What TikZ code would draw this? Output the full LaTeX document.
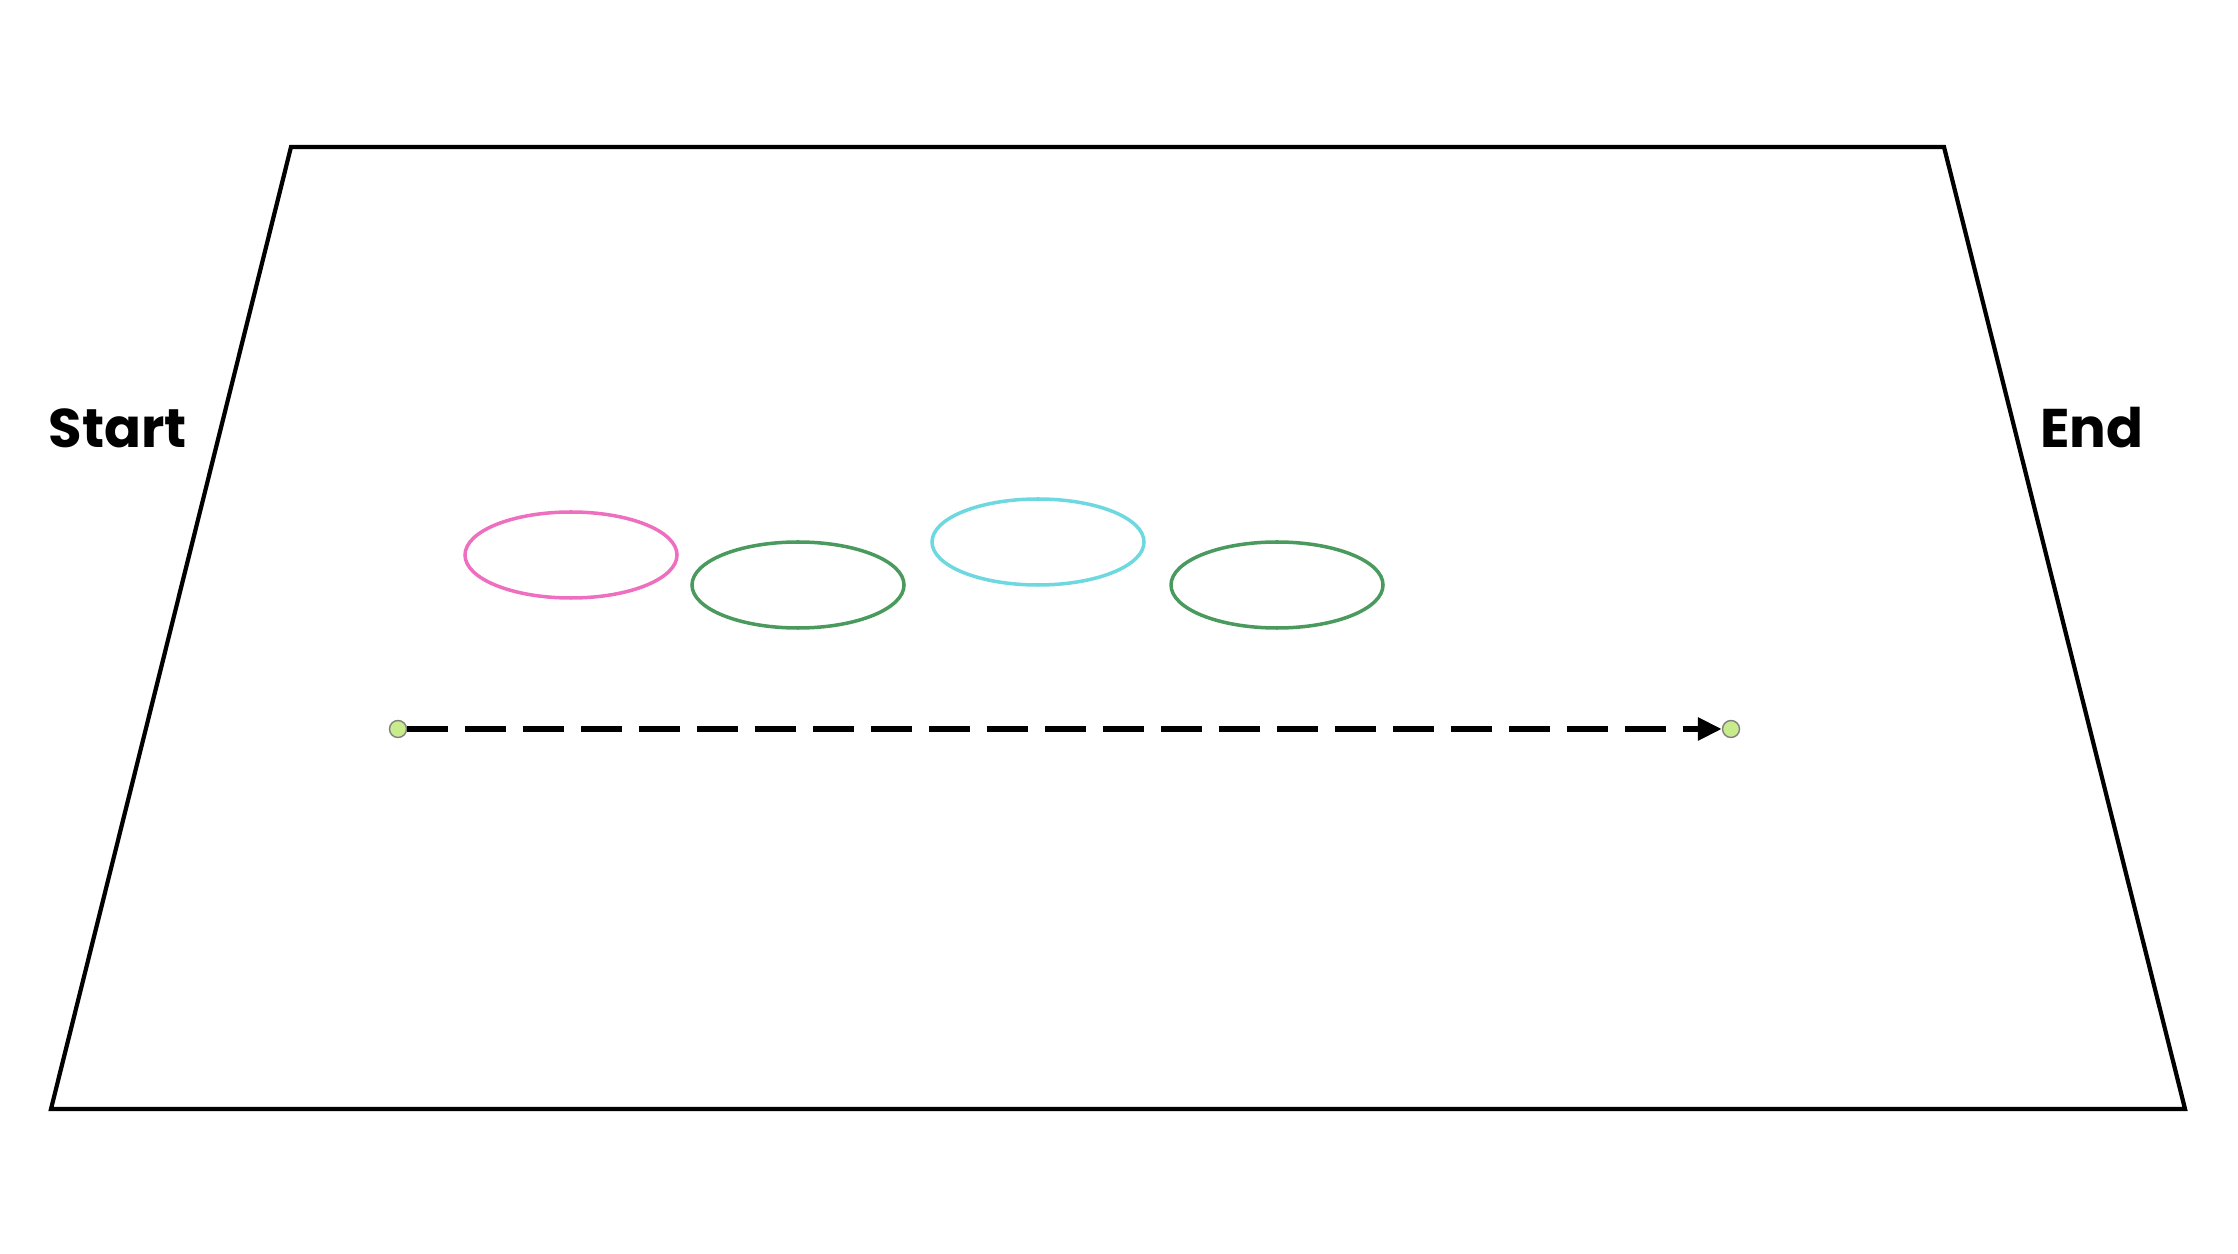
\documentclass[tikz,border=0pt]{standalone}
\usepackage{fontspec}
\setmainfont{Poppins}
\usetikzlibrary{shapes.geometric, arrows.meta}
\definecolor{ringpink}{HTML}{EE6FBF}
\definecolor{ringgreen}{HTML}{4A9A5E}
\definecolor{ringcyan}{HTML}{6ED8E0}
\definecolor{dotfill}{HTML}{C8EC8C}

\begin{document}
\begin{tikzpicture}[ring/.style={ellipse, draw, line width=1pt, inner sep=0pt, minimum width=2.12cm, minimum height=0.86cm},
        dot/.style={circle, draw=gray, fill=dotfill, line width=0.4pt, inner sep=0pt, minimum size=0.17cm},
        label/.style={font=\fontsize{15.5}{18}\selectfont\bfseries},
        >={Triangle[length=0.24cm, width=0.22cm]}]
        \useasboundingbox (0,0) rectangle (22.38,-12.54);

        % field
        \draw[line width=1.2pt, line join=miter] (2.91,-1.47) -- (19.44,-1.47) -- (21.85,-11.09) -- (0.51,-11.09) -- cycle;
        \node[label] (start) at (1.18,-4.28) {Start};
        \node[label] (end) at (20.92,-4.28) {End};

        % rings
        \node[ring, draw=ringpink] (r1) at (5.71,-5.55) {};
        \node[ring, draw=ringgreen] (r2) at (7.98,-5.85) {};
        \node[ring, draw=ringcyan] (r3) at (10.38,-5.42) {};
        \node[ring, draw=ringgreen] (r4) at (12.77,-5.85) {};

        % run
        \node[dot] (a) at (3.98,-7.29) {};
        \node[dot] (b) at (17.31,-7.29) {};
        \draw[->, line width=1.7pt, dash pattern=on 0.41cm off 0.17cm] (a) -- (b);
    \end{tikzpicture}
\end{document}
